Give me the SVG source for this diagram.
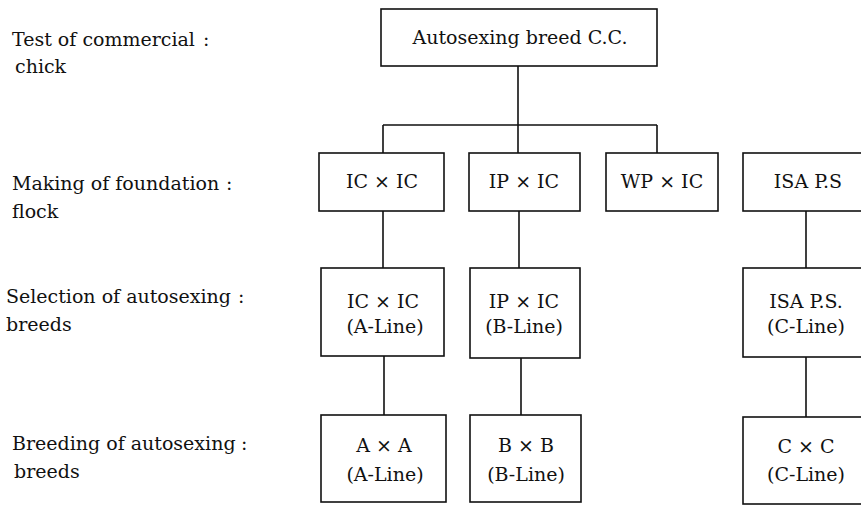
<svg xmlns="http://www.w3.org/2000/svg" width="861" height="506" viewBox="0 0 861 506">
<style>
.box{fill:#fff;stroke:#111;stroke-width:1.6}
.ln{fill:none;stroke:#111;stroke-width:1.6}
text{font-family:"DejaVu Serif","Liberation Serif",serif;font-size:19px;fill:#111}
.c{text-anchor:middle}
</style>
<rect width="861" height="506" fill="#fff"/>
<g id="labels">
<text x="12" y="46">Test of commercial<tspan x="203">:</tspan></text>
<text x="15" y="73">chick</text>
<text x="12" y="190">Making of foundation<tspan x="226">:</tspan></text>
<text x="12" y="218">flock</text>
<text x="6" y="303">Selection of autosexing<tspan x="238">:</tspan></text>
<text x="6" y="331">breeds</text>
<text x="12" y="450">Breeding of autosexing<tspan x="241">:</tspan></text>
<text x="14" y="478">breeds</text>
</g>
<g id="connectors">
<path class="ln" d="M518 66V125M383 125H657M383 125V153M518 125V153M657 125V153"/>
<path class="ln" d="M383 211V268M519 211V268M806 211V268"/>
<path class="ln" d="M384 356V415M521 358V415M806 357V417"/>
</g>
<g id="n-top"><rect class="box" x="381" y="9" width="276" height="57"/><text class="c" x="520" y="44">Autosexing breed C.C.</text></g>
<g id="n-icic1"><rect class="box" x="319" y="153" width="125" height="58"/><text class="c" x="382" y="188">IC × IC</text></g>
<g id="n-ipic1"><rect class="box" x="469" y="153" width="111" height="58"/><text class="c" x="524" y="188">IP × IC</text></g>
<g id="n-wpic"><rect class="box" x="606" y="153" width="112" height="58"/><text class="c" x="662" y="188">WP × IC</text></g>
<g id="n-isa1"><rect class="box" x="743" y="153" width="126" height="58"/><text class="c" x="808" y="188">ISA P.S</text></g>
<g id="n-aline"><rect class="box" x="321" y="268" width="123" height="88"/><text class="c" x="383" y="308">IC × IC</text><text class="c" x="385" y="333">(A-Line)</text></g>
<g id="n-bline"><rect class="box" x="470" y="268" width="110" height="90"/><text class="c" x="524" y="308">IP × IC</text><text class="c" x="524" y="333">(B-Line)</text></g>
<g id="n-cline"><rect class="box" x="743" y="268" width="126" height="89"/><text class="c" x="806" y="308">ISA P.S.</text><text class="c" x="806" y="333">(C-Line)</text></g>
<g id="n-axa"><rect class="box" x="321" y="415" width="125" height="87"/><text class="c" x="384" y="452">A × A</text><text class="c" x="385" y="481">(A-Line)</text></g>
<g id="n-bxb"><rect class="box" x="470" y="415" width="111" height="87"/><text class="c" x="526" y="452">B × B</text><text class="c" x="526" y="481">(B-Line)</text></g>
<g id="n-cxc"><rect class="box" x="743" y="417" width="126" height="87"/><text class="c" x="806" y="453">C × C</text><text class="c" x="806" y="481">(C-Line)</text></g>
</svg>
